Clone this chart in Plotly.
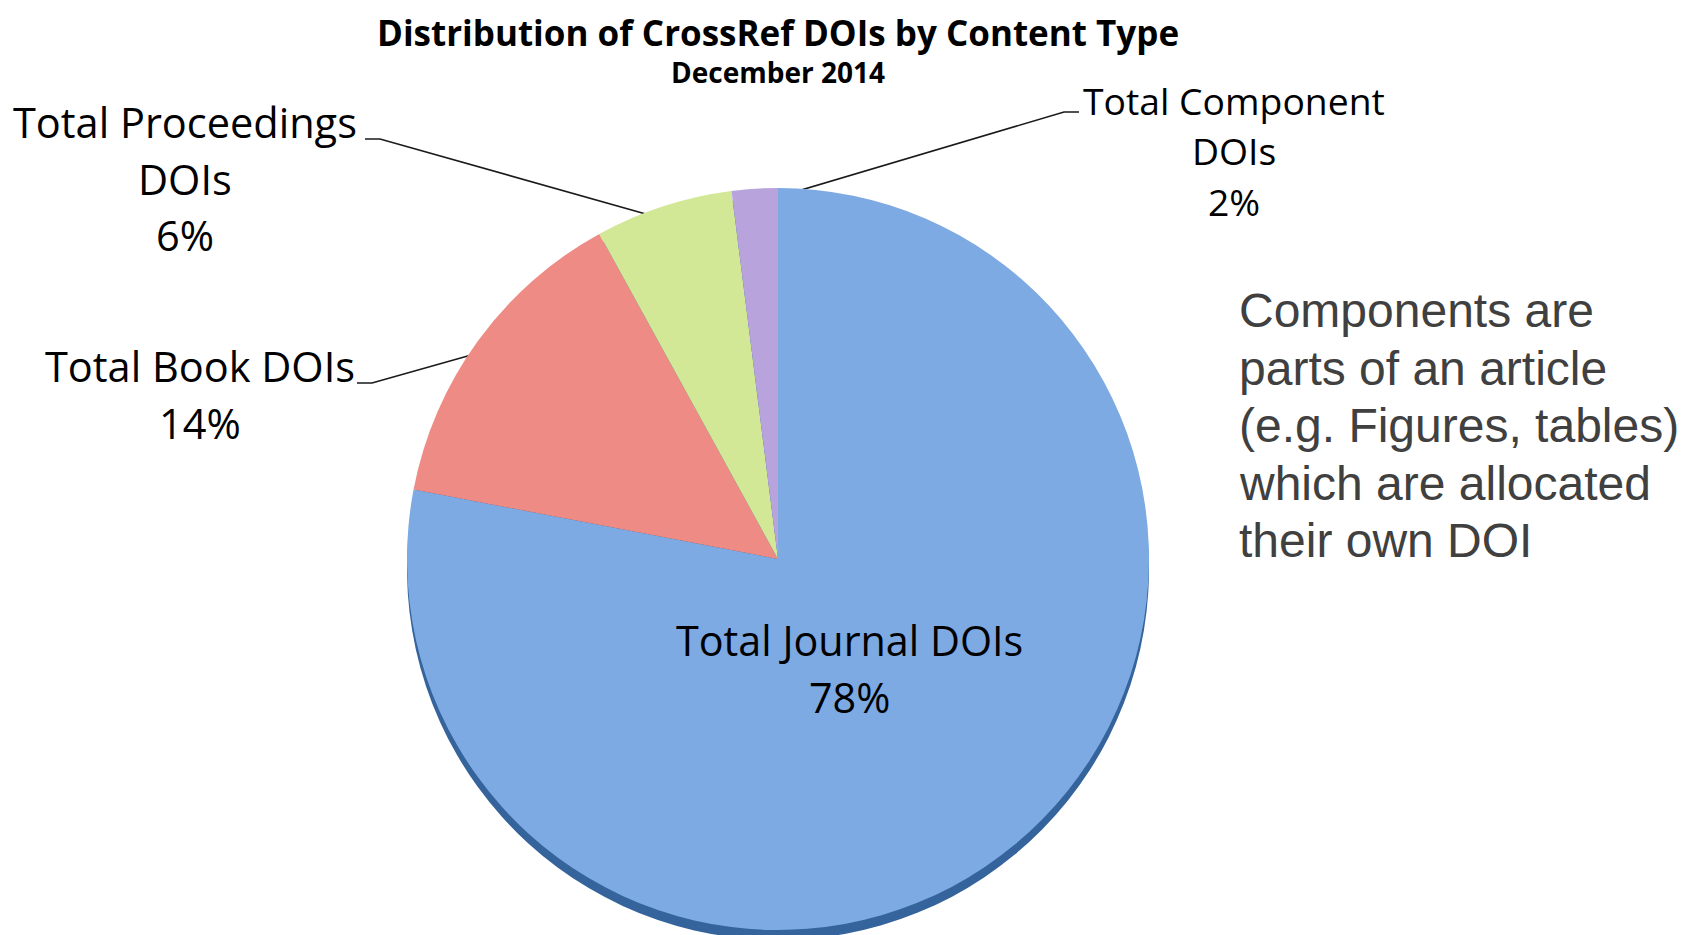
import math
import plotly.graph_objects as go

# ---- data ----
categories = ["Total Journal DOIs", "Total Book DOIs", "Total Proceedings DOIs", "Total Component DOIs"]
label_lines = [["Total Journal DOIs"], ["Total Book DOIs"], ["Total Proceedings", "DOIs"], ["Total Component", "DOIs"]]
values = [78, 14, 6, 2]
colors = ["#7DAAE3", "#EE8B84", "#D2E897", "#B9A3DD"]
title_text = "Distribution of CrossRef DOIs by Content Type"
subtitle_text = "December 2014"
note_lines = ["Components are", "parts of an article", "(e.g. Figures, tables)", "which are allocated", "their own DOI"]

# ---- layout constants (pixels) ----
W, H = 1693, 935
CX, CY, R = 770, 551, 371
SHADOW = 10
LABEL_FONT = "Open Sans, Lato, sans-serif"

def dom(cx, cy, r):
    return dict(x=[(cx - r) / W, (cx + r) / W], y=[1 - (cy + r) / H, 1 - (cy - r) / H])

fig = go.Figure()

# 3D rim / shadow below the pie
fig.add_trace(go.Pie(values=values, labels=categories, sort=False, direction="clockwise", rotation=0,
                     marker=dict(colors=["#35639B"] * len(values), line=dict(width=0)),
                     textinfo="none", hoverinfo="skip", showlegend=False,
                     domain=dom(CX, CY + SHADOW, R)))
fig.add_trace(go.Pie(values=values, labels=categories, sort=False, direction="clockwise", rotation=0,
                     marker=dict(colors=colors, line=dict(width=0)),
                     textinfo="none", showlegend=False,
                     domain=dom(CX, CY, R)))

# overlay pixel axes for leader lines and labels
fig.update_layout(
    xaxis=dict(range=[0, W], visible=False, fixedrange=True),
    yaxis=dict(range=[H, 0], visible=False, fixedrange=True),
)

total = sum(values)
mids = []
acc = 0
for v in values:
    mids.append((acc + v / 2) / total * 360)
    acc += v

def rim(i, k=0.96):
    th = math.radians(mids[i])
    return CX + k * R * math.sin(th), CY - k * R * math.cos(th)

# label placement (pixel anchors): centre x, first-line y, line step, font size, elbow points
placements = {
    1: dict(x=192, y=358, step=57, size=41.5, elbow=[(349, 375), (364, 375)]),
    2: dict(x=177, y=114, step=56.5, size=41.5, elbow=[(357, 131), (372, 131)]),
    3: dict(x=1226, y=92, step=50.5, size=37.3, elbow=[(1071, 104), (1056, 104)]),
}

annotations = []
for i, p in placements.items():
    lines = label_lines[i] + [f"{round(values[i] / total * 100)}%"]
    for j, t in enumerate(lines):
        annotations.append(dict(x=p["x"], y=p["y"] + j * p["step"], xref="x", yref="y", text=t,
                                showarrow=False, xanchor="center", yanchor="middle",
                                font=dict(family=LABEL_FONT, size=p["size"], color="#000000")))
    rx, ry = rim(i)
    xs = [p["elbow"][0][0], p["elbow"][1][0], rx]
    ys = [p["elbow"][0][1], p["elbow"][1][1], ry]
    fig.add_trace(go.Scatter(x=xs, y=ys, mode="lines", line=dict(color="#1a1a1a", width=1.6),
                             hoverinfo="skip", showlegend=False))

# journal label inside the big slice
for j, t in enumerate(label_lines[0] + [f"{round(values[0] / total * 100)}%"]):
    annotations.append(dict(x=841, y=632 + j * 57, xref="x", yref="y", text=t, showarrow=False,
                            xanchor="center", yanchor="middle",
                            font=dict(family=LABEL_FONT, size=41.3, color="#000000")))

# title and subtitle
annotations.append(dict(x=770, y=24, xref="x", yref="y", text=f"<b>{title_text}</b>", showarrow=False,
                        xanchor="center", yanchor="middle",
                        font=dict(family=LABEL_FONT, size=35, color="#000000")))
annotations.append(dict(x=770, y=64, xref="x", yref="y", text=f"<b>{subtitle_text}</b>", showarrow=False,
                        xanchor="center", yanchor="middle",
                        font=dict(family=LABEL_FONT, size=28, color="#000000")))

# side note
for j, t in enumerate(note_lines):
    annotations.append(dict(x=1229, y=302.5 + j * 57.5, xref="x", yref="y", text=t, showarrow=False,
                            xanchor="left", yanchor="middle",
                            font=dict(family="Liberation Sans, Arial, sans-serif", size=48, color="#404040")))

fig.update_layout(
    width=W, height=H,
    margin=dict(l=0, r=0, t=0, b=0),
    paper_bgcolor="white", plot_bgcolor="rgba(0,0,0,0)",
    annotations=annotations,
    showlegend=False,
)

fig.write_html("out.html")
